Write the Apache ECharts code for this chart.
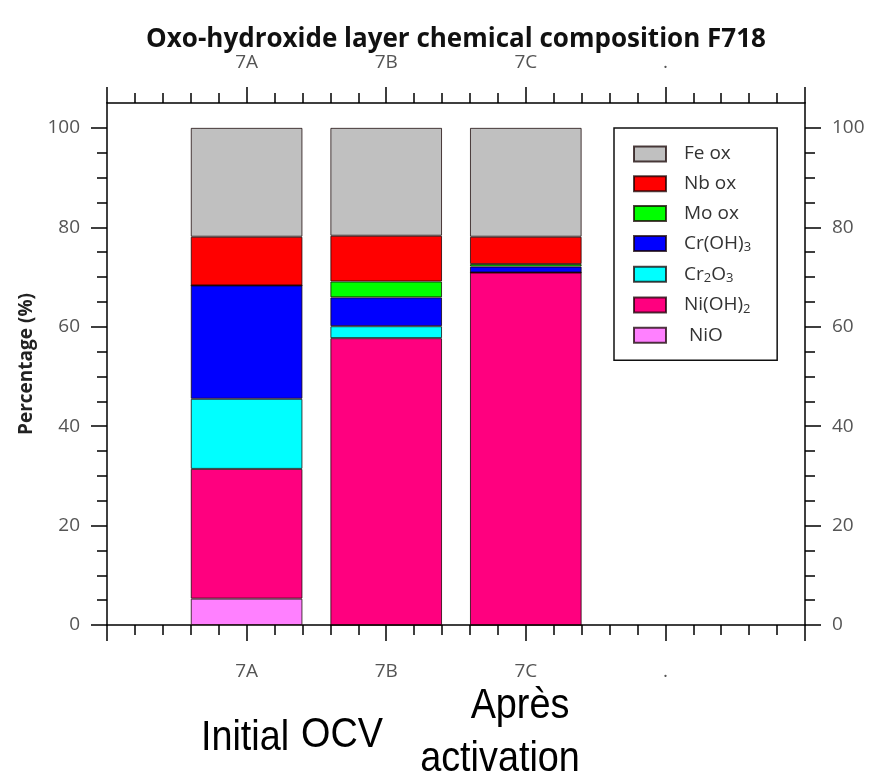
<!DOCTYPE html>
<html>
<head>
<meta charset="utf-8">
<script src="https://cdn.jsdelivr.net/npm/echarts@6/dist/echarts.min.js"></script>
<style>
  html, body { margin: 0; padding: 0; background: #fff; }
  #chart { width: 871px; height: 781px; }
</style>
</head>
<body>
<div id="chart"></div>
<script>
// Sample slots along the x axis: slot i sits at axis value i (0..5)
const xTickLabels = ['', '7A', '7B', '7C', '.', ''];
const sampleSlots = [1, 2, 3];
const yTickValues = [0, 20, 40, 60, 80, 100];

// Layer composition (%) for samples 7A, 7B, 7C, stacked bottom to top
const nio    = [5.3, 0, 0];
const niOH2  = [26.1, 57.7, 70.9];
const cr2o3  = [14.1, 2.4, 0];
const crOH3  = [22.8, 5.8, 1.2];
const moOx   = [0, 3.2, 0.5];
const nbOx   = [9.8, 9.2, 5.5];
const feOx   = [21.9, 21.7, 21.9];

const stackNames  = ['NiO', 'Ni(OH)2', 'Cr2O3', 'Cr(OH)3', 'Mo ox', 'Nb ox', 'Fe ox'];
const stackValues = [nio, niOH2, cr2o3, crOH3, moOx, nbOx, feOx];
const stackColors = ['#ff80ff', '#ff007f', '#00ffff', '#0000ff', '#00ff00', '#ff0000', '#c0c0c0'];

const titleText = 'Oxo-hydroxide layer chemical composition F718';
const yAxisName = 'Percentage (%)';
const stageNotes = [
  { text: 'Initial', x: 245, y: 738 },
  { text: 'OCV', x: 342, y: 735 },
  { text: 'Après', x: 520, y: 706 },
  { text: 'activation', x: 500, y: 759 }
];

const GRID = { left: 107, right: 66, top: 103, bottom: 156 };
const W = 871;
const plotCenterX = GRID.left + (W - GRID.left - GRID.right) / 2;

const chart = echarts.init(document.getElementById('chart'), null, { renderer: 'canvas' });

const lineStyle = { color: '#000', width: 1.5 };
const tickFont = { fontFamily: 'Open Sans', fontSize: 19, color: '#555' };

// Visible value axes (top and bottom) carry the ticks and labels
function xAxisDef(position, margin) {
  return {
    type: 'value', position: position, min: 0, max: 5, interval: 1,
    axisLine: { show: true, onZero: false, lineStyle: lineStyle },
    axisTick: { show: true, length: 16, lineStyle: lineStyle },
    minorTick: { show: true, splitNumber: 5, length: 10, lineStyle: lineStyle },
    splitLine: { show: false }, minorSplitLine: { show: false },
    axisLabel: Object.assign({ margin: margin, formatter: v => xTickLabels[v] || '' }, tickFont)
  };
}

function yAxisDef(position, withName) {
  const ax = {
    type: 'value', position: position, min: 0, max: 105, interval: 20,
    axisLine: { show: true, onZero: false, lineStyle: lineStyle },
    axisTick: { show: true, length: 16, lineStyle: lineStyle, customValues: yTickValues },
    minorTick: { show: true, splitNumber: 4, length: 10, lineStyle: lineStyle },
    splitLine: { show: false }, minorSplitLine: { show: false },
    axisLabel: Object.assign({ margin: 27, customValues: yTickValues }, tickFont)
  };
  if (withName) {
    ax.name = yAxisName;
    ax.nameLocation = 'middle';
    ax.nameGap = 62;
    ax.nameTextStyle = { fontFamily: 'Open Sans', fontSize: 19, fontWeight: 'bold', color: '#222' };
  }
  return ax;
}

// Chemical formulas in the legend get their digits written as subscripts;
// every piece is a rich token so all rows share the same height
function legendLabel(name) {
  const label = name === 'NiO' ? ' ' + name : name;
  return label.split(/(\d)/).filter(s => s !== '')
    .map(s => /^\d$/.test(s) ? '{sub|' + s + '}' : '{n|' + s + '}').join('');
}

// Bars live on a hidden category axis whose slots line up with the value axis 0..5
const series = stackNames.map((name, k) => ({
  name: name,
  type: 'bar',
  stack: 'layer',
  barWidth: '80%',
  xAxisIndex: 2,
  yAxisIndex: 0,
  itemStyle: { color: stackColors[k], borderColor: 'rgba(20,0,0,0.75)', borderWidth: 1 },
  emphasis: { disabled: true },
  data: sampleSlots.map((slot, i) => [slot, stackValues[k][i]])
}));

const option = {
  animation: false,
  backgroundColor: '#fff',
  grid: GRID,
  xAxis: [
    xAxisDef('bottom', 37),
    xAxisDef('top', 31),
    { type: 'category', data: xTickLabels, boundaryGap: false, show: false, position: 'bottom' }
  ],
  yAxis: [yAxisDef('left', true), yAxisDef('right', false)],
  legend: {
    orient: 'vertical',
    left: 614, top: 128,
    data: stackNames.slice().reverse(),
    icon: 'rect',
    itemWidth: 32, itemHeight: 15, itemGap: 9.7,
    padding: [16, 26, 15, 19],
    borderColor: '#111', borderWidth: 1.5,
    backgroundColor: '#fff',
    selectedMode: false,
    formatter: legendLabel,
    textStyle: {
      fontFamily: 'Open Sans', fontSize: 19, color: '#333', lineHeight: 20,
      padding: [0, 0, 0, 13],
      rich: {
        n: { fontFamily: 'Open Sans', fontSize: 19, color: '#333', lineHeight: 20 },
        sub: { fontFamily: 'Open Sans', fontSize: 13, color: '#333', lineHeight: 12, padding: [8, 0, 0, 0] }
      }
    }
  },
  graphic: [
    {
      type: 'text', x: plotCenterX, y: 40,
      style: { text: titleText, align: 'center', verticalAlign: 'middle',
        font: 'bold 26px "Open Sans"', fill: '#111' }
    }
  ].concat(stageNotes.map(n => ({
    type: 'text', x: n.x, y: n.y, scaleX: 0.9,
    style: { text: n.text, align: 'center', verticalAlign: 'middle',
      font: '42px "Liberation Sans"', fill: '#000' }
  }))),
  series: series
};

chart.setOption(option);
</script>
</body>
</html>
